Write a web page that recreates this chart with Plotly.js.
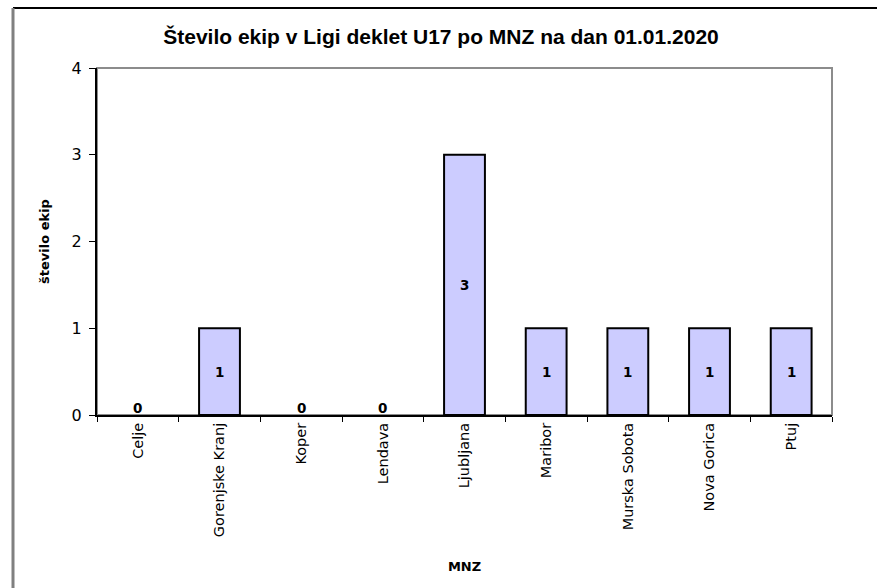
<!DOCTYPE html>
<html>
<head>
<meta charset="utf-8">
<script src="https://cdn.plot.ly/plotly-3.0.1.min.js"></script>
<style>
html,body{margin:0;padding:0;background:#fff;}
#chart{width:877px;height:588px;}
</style>
</head>
<body>
<div id="chart"></div>
<script>
const categories = ["Celje","Gorenjske Kranj","Koper","Lendava","Ljubljana","Maribor","Murska Sobota","Nova Gorica","Ptuj"];
const values = [0,1,0,0,3,1,1,1,1];
const yTicks = [0,1,2,3,4];
const titleText = "Število ekip v Ligi deklet U17 po MNZ na dan 01.01.2020";
const xTitle = "MNZ";
const yTitle = "število ekip";

const FONT = "DejaVu Sans, Verdana, sans-serif";
const labelFont = {family:FONT, size:13.5, color:"#000"};

const annotations = categories.map((c,i)=>({
  x:c, y: values[i]===0 ? 0 : values[i]/2, xref:'x', yref:'y',
  text:'<b>'+values[i]+'</b>', showarrow:false,
  yanchor: values[i]===0 ? 'bottom' : 'middle',
  yshift: values[i]===0 ? -3 : 0,
  font:labelFont
}));

const trace = {
  type:'bar', x:categories, y:values,
  marker:{color:'#CCCCFF', line:{color:'#000', width:values.map(v=>v>0?2:0)}},
  width:0.5, hoverinfo:'none'
};

const layout = {
  width:877, height:588,
  margin:{l:97, r:45, t:68, b:173},
  paper_bgcolor:'#fff', plot_bgcolor:'#fff',
  showlegend:false,
  title:{text:'<b>'+titleText+'</b>', x:441/877, xanchor:'center', y:1-37/588, yanchor:'middle',
    font:{family:"Liberation Sans Narrow, Liberation Sans, Arial", size:21, color:'#000'}},
  xaxis:{
    type:'category', tickson:'boundaries', ticks:'outside', ticklen:5, tickcolor:'#000', tickwidth:1,
    tickangle:-90, showline:true, linecolor:'#000', linewidth:2, showgrid:false,
    tickfont:{family:FONT, size:14.5, color:'#000'},
    title:{text:'<b>'+xTitle+'</b>', standoff:26, font:{family:FONT, size:13, color:'#000'}},
    range:[-0.5, categories.length-0.5], fixedrange:true
  },
  yaxis:{
    range:[0,4], tickvals:yTicks, ticktext:yTicks.map(String), ticks:'outside', ticklen:6, tickcolor:'#000',
    ticklabelstandoff:4,
    showline:true, linecolor:'#000', linewidth:2, showgrid:false, zeroline:false,
    tickfont:{family:FONT, size:16, color:'#000'},
    title:{text:'<b>'+yTitle+'</b>', standoff:19, font:{family:FONT, size:13, color:'#000'}},
    fixedrange:true
  },
  shapes:[
    {type:'rect', xref:'paper', yref:'paper', x0:0, x1:1, y0:0, y1:1, line:{color:'#8c8c8c', width:2}, layer:'below'},
    {type:'line', xref:'paper', yref:'paper', x0:(13-97)/735, x1:(900-97)/735, y0:(415-8)/347, y1:(415-8)/347, line:{color:'#000', width:2}},
    {type:'line', xref:'paper', yref:'paper', x0:(13-97)/735, x1:(13-97)/735, y0:(415-8)/347, y1:(415-600)/347, line:{color:'#808080', width:3}}
  ],
  annotations: annotations
};

Plotly.newPlot('chart',[trace],layout,{displayModeBar:false, staticPlot:true});
</script>
</body>
</html>
